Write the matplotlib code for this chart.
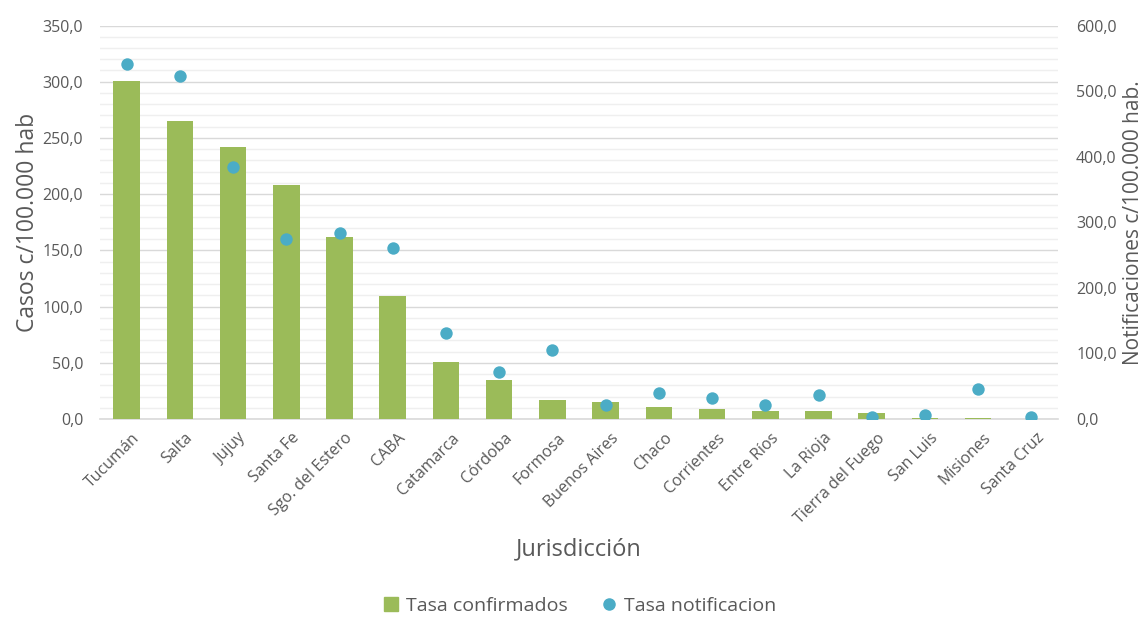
import matplotlib
matplotlib.use("Agg")
import matplotlib.pyplot as plt
from matplotlib.ticker import MultipleLocator, FuncFormatter
from matplotlib.lines import Line2D
from matplotlib.transforms import ScaledTranslation
import numpy as np

plt.rcParams['font.family'] = ['Open Sans', 'DejaVu Sans']

jurisdicciones = ["Tucumán", "Salta", "Jujuy", "Santa Fe", "Sgo. del Estero", "CABA",
                  "Catamarca", "Córdoba", "Formosa", "Buenos Aires", "Chaco", "Corrientes",
                  "Entre Ríos", "La Rioja", "Tierra del Fuego", "San Luis", "Misiones", "Santa Cruz"]
tasa_confirmados = [301.0, 265.0, 242.0, 208.0, 162.0, 109.0,
                    51.0, 35.0, 17.0, 15.0, 10.5, 9.0,
                    6.8, 6.8, 5.0, 1.2, 1.2, 0.0]
tasa_notificacion = [542.0, 523.0, 385.0, 275.0, 283.0, 261.0,
                     131.0, 71.0, 105.0, 21.0, 40.0, 32.0,
                     21.0, 36.0, 3.0, 6.0, 45.0, 3.0]

GREEN = "#9BBB59"
BLUE = "#4BACC6"
TEXT = "#595959"

fig = plt.figure(figsize=(11.46, 6.17), dpi=100)
ax_h = (419 - 25.5) / 617
ax = fig.add_axes([100 / 1146, 1 - 419 / 617, 958 / 1146, ax_h])
ax2 = ax.twinx()

x = np.arange(len(jurisdicciones))
ax.bar(x, tasa_confirmados, width=0.5, color=GREEN, zorder=3)
ax2.scatter(x, tasa_notificacion, s=80, color=BLUE, zorder=4, linewidths=0)

ax.set_xlim(-0.5, len(x) - 0.5)
ax.set_ylim(0, 350)
ax2.set_ylim(0, 600)

fmt = FuncFormatter(lambda v, p: f"{v:.1f}".replace(".", ","))
ax.yaxis.set_major_locator(MultipleLocator(50))
ax.yaxis.set_minor_locator(MultipleLocator(10))
ax.yaxis.set_major_formatter(fmt)
ax2.yaxis.set_major_locator(MultipleLocator(100))
ax2.yaxis.set_major_formatter(fmt)

ax.grid(axis='y', which='major', color="#D9D9D9", linewidth=1.0, zorder=0)
ax.grid(axis='y', which='minor', color="#EFEFEF", linewidth=1.0, zorder=0)
ax.set_axisbelow(True)

for a in (ax, ax2):
    for s in a.spines.values():
        s.set_visible(False)
ax.spines['bottom'].set_visible(True)
ax.spines['bottom'].set_color("#D9D9D9")
ax.spines['bottom'].set_linewidth(1.2)

ax.tick_params(axis='y', which='both', length=0, labelsize=11.5, labelcolor=TEXT, pad=12)
ax2.tick_params(axis='y', which='both', length=0, labelsize=11.5, labelcolor=TEXT, pad=13)
ax.tick_params(axis='x', length=0, labelsize=11.5, labelcolor=TEXT, pad=8)

ax.set_xticks(x)
ax.set_xticklabels(jurisdicciones, rotation=45, ha='right', rotation_mode='anchor')
shift = ScaledTranslation(5 / 100, 0, fig.dpi_scale_trans)
for lab in ax.get_xticklabels():
    lab.set_transform(lab.get_transform() + shift)

ax.set_ylabel("Casos c/100.000 hab", fontsize=16.5, color=TEXT)
ax.yaxis.set_label_coords((40 - 100) / 958, 0.5)
ax2.set_ylabel("Notificaciones c/100.000 hab.", fontsize=15, color=TEXT)
ax2.yaxis.set_label_coords((1123 - 100) / 958, 0.5)
ax.set_xlabel("Jurisdicción", fontsize=17, color=TEXT)
ax.xaxis.set_label_coords(0.5, (419 - 537) / (419 - 25.5))

handles = [Line2D([0], [0], marker='s', linestyle='none', markersize=10,
                  markerfacecolor=GREEN, markeredgecolor=GREEN, label="Tasa confirmados"),
           Line2D([0], [0], marker='o', linestyle='none', markersize=8,
                  markerfacecolor=BLUE, markeredgecolor=BLUE, label="Tasa notificacion")]
leg = fig.legend(handles=handles, loc='center', bbox_to_anchor=(0.505, 1 - 606 / 617),
                 ncol=2, frameon=False, fontsize=14, handletextpad=0.3, columnspacing=1.6,
                 handlelength=1.0)
for t in leg.get_texts():
    t.set_color(TEXT)

fig.savefig("out.png", dpi=100)
